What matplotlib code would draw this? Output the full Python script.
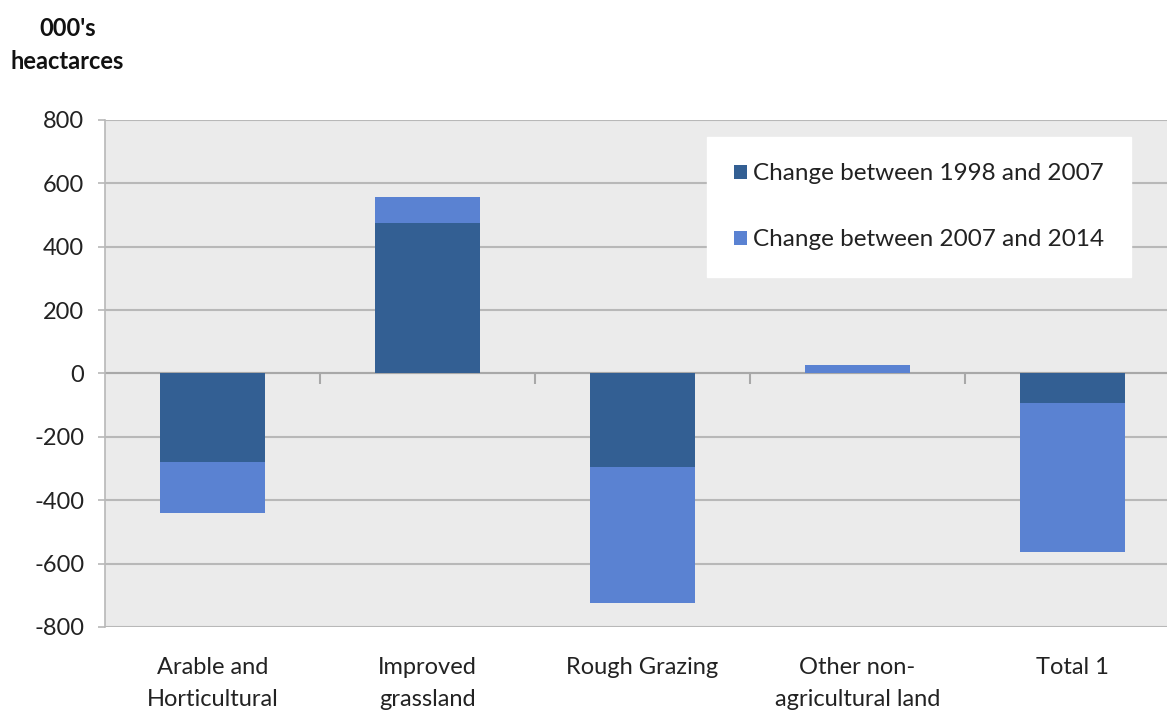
import numpy as np
import matplotlib.pyplot as plt
from matplotlib.patches import Patch

plt.rcParams["font.family"] = ["Lato", "DejaVu Sans"]

# Land use change, thousands of hectares
categories = ["Arable and\nHorticultural", "Improved\ngrassland", "Rough Grazing",
              "Other non-\nagricultural land", "Total 1"]
change_1998_2007 = [-280, 475, -295, 0, -92]
change_2007_2014 = [-160, 83, -430, 28, -470]
yticks = [800, 600, 400, 200, 0, -200, -400, -600, -800]

dark = "#335f93"
light = "#5a82d2"
grid_col = "#b8b8b8"
text_col = "#222222"

fig = plt.figure(figsize=(11.67, 7.10), dpi=100)
ax = fig.add_axes([0.09, 0.117, 0.921, 0.714])
ax.set_facecolor("#ebebeb")

x = np.arange(len(categories))
first = np.array(change_1998_2007)
second = np.array(change_2007_2014)
ax.bar(x, first, width=0.49, color=dark, zorder=3)
ax.bar(x, second, width=0.49, bottom=first, color=light, zorder=3)

ax.set_xlim(-0.5, len(categories) - 0.5)
ax.set_ylim(-800, 800)
ax.set_yticks(yticks)
ax.set_yticklabels([str(v) for v in yticks], fontsize=17, color=text_col)
ax.yaxis.grid(True, color=grid_col, linewidth=1.5, zorder=0)
ax.tick_params(axis="y", length=5, color=grid_col, width=1.2, pad=10)

for side in ["top", "right", "bottom"]:
    ax.spines[side].set_visible(False)
ax.spines["left"].set_color(grid_col)
ax.spines["left"].set_linewidth(1.2)

# category names under the plot, no tick marks
ax.set_xticks(x)
ax.set_xticklabels(categories, fontsize=17, color=text_col, linespacing=1.6)
ax.tick_params(axis="x", length=0, pad=22)

# zero line with short divider ticks hanging below it
ax.axhline(0, color="#a8a8a8", linewidth=1.5, zorder=2)
ax.vlines(x[:-1] + 0.5, -32, 0, color="#a8a8a8", linewidth=1.5, zorder=2)

handles = [Patch(facecolor=dark, label="Change between 1998 and 2007"),
           Patch(facecolor=light, label="Change between 2007 and 2014")]
leg = ax.legend(handles=handles, loc="upper left", bbox_to_anchor=(0.560, 0.967),
                frameon=True, fancybox=False, framealpha=1, edgecolor="white",
                fontsize=17.5, handlelength=0.55, handleheight=0.55, handletextpad=0.25,
                labelspacing=1.85, borderpad=1.1, borderaxespad=0)
for t in leg.get_texts():
    t.set_color(text_col)
leg.set_zorder(5)

fig.text(0.058, 0.937, "000's\nheactarces", fontsize=17, fontweight="bold",
         ha="center", va="center", linespacing=1.55, color="#111111")

fig.savefig("out.png", dpi=100)
